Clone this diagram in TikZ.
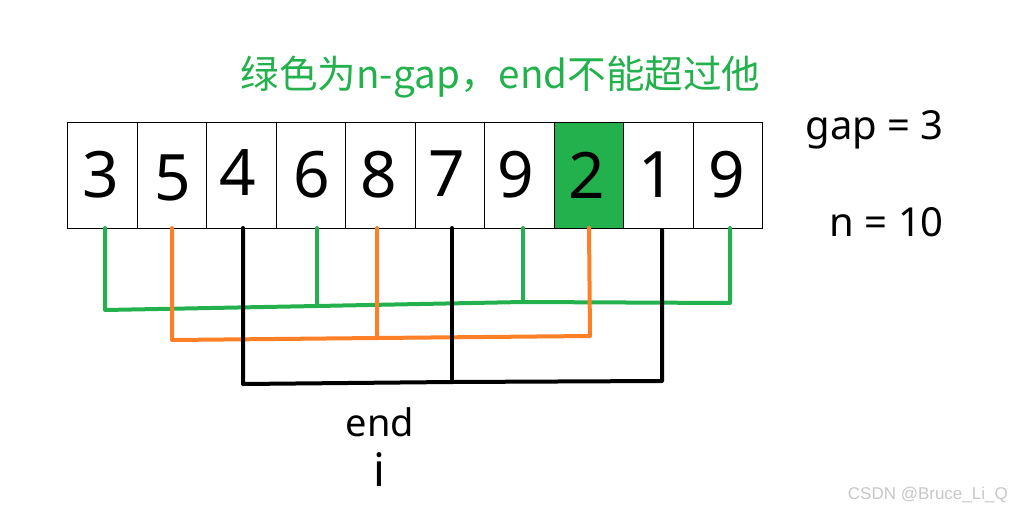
\documentclass[tikz,border=0pt]{standalone}
\usepackage{fontspec}
\setmainfont{Noto Sans}
\newfontfamily\cjk{Noto Sans CJK SC}
\newfontfamily\wmfont{Liberation Sans}
\definecolor{pgreen}{HTML}{22B14C}
\definecolor{porange}{HTML}{FF7F27}
\begin{document}
\begin{tikzpicture}[x=1pt,y=-1pt,
  cell/.style={draw=black,line width=1.2pt,minimum width=69.5pt,minimum height=106pt,inner sep=0pt,anchor=north west},
  digit/.style={inner sep=0pt,font=\fontsize{64}{64}\selectfont},
  lab/.style={inner sep=0pt,font=\fontsize{40}{40}\selectfont},
  gline/.style={pgreen,line width=4pt,line cap=round,line join=round},
  oline/.style={porange,line width=4pt,line cap=round,line join=round},
  bline/.style={black,line width=4pt,line cap=round,line join=round}]
\useasboundingbox (0,0) rectangle (1012,514);
% cells
\foreach \i in {0,...,9} {
  \node[cell] (c\i) at ({67+69.5*\i},122) {};
}
\node[cell,fill=pgreen] at ({67+69.5*7},122) {};
% digits
\node[digit] (d0) at (101,175) {3};
\node[digit] (d1) at (173,178) {5};
\node[digit] (d2) at (238,172.5) {4};
\node[digit] (d3) at (312,175) {6};
\node[digit] (d4) at (379,175) {8};
\node[digit] (d5) at (447,174) {7};
\node[digit] (d6) at (516,175) {9};
\node[digit] (d7) at (587,175) {2};
\node[digit] (d8) at (657,175) {1};
\node[digit] (d9) at (727,175) {9};
% connectors
\coordinate (g0) at (105,310); \coordinate (g1) at (317,306);
\coordinate (g2) at (523,302); \coordinate (g3) at (730,303);
\draw[gline] (105,228) -- (g0) -- (g1) -- (g2) -- (g3) -- (730,228);
\draw[gline] (317,228) -- (g1);
\draw[gline] (523,228) -- (g2);
\coordinate (o0) at (172,340); \coordinate (o1) at (377,338);
\coordinate (o2) at (590,336);
\draw[oline] (172,228) -- (o0) -- (o1) -- (o2) -- (589,228);
\draw[oline] (377,228) -- (o1);
\coordinate (b0) at (243,384); \coordinate (b1) at (452,382);
\coordinate (b2) at (662,381);
\draw[bline] (243,228) -- (b0) -- (b1) -- (b2) -- (662,230);
\draw[bline] (452,228) -- (b1);
% texts
\node[inner sep=0pt,text=pgreen,font=\cjk\fontsize{38.6}{38.6}\selectfont] (title) at (500.5,77) {绿色为n-gap，end不能超过他};
\node[lab,anchor=east] (gap) at (944,130) {gap = 3};
\node[lab,anchor=east] (n) at (944,222) {n = 10};
\node[inner sep=0pt,anchor=base,font=\fontsize{38}{38}\selectfont] (end) at (380,436) {end};
\node[inner sep=0pt,anchor=base,font=\fontsize{46}{46}\selectfont] (i) at (379,486) {i};
\node[inner sep=0pt,anchor=east,text=black!22,font=\wmfont\fontsize{17}{17}\selectfont] (wm) at (1008,495) {CSDN @Bruce\_Li\_Q};
\end{tikzpicture}
\end{document}
